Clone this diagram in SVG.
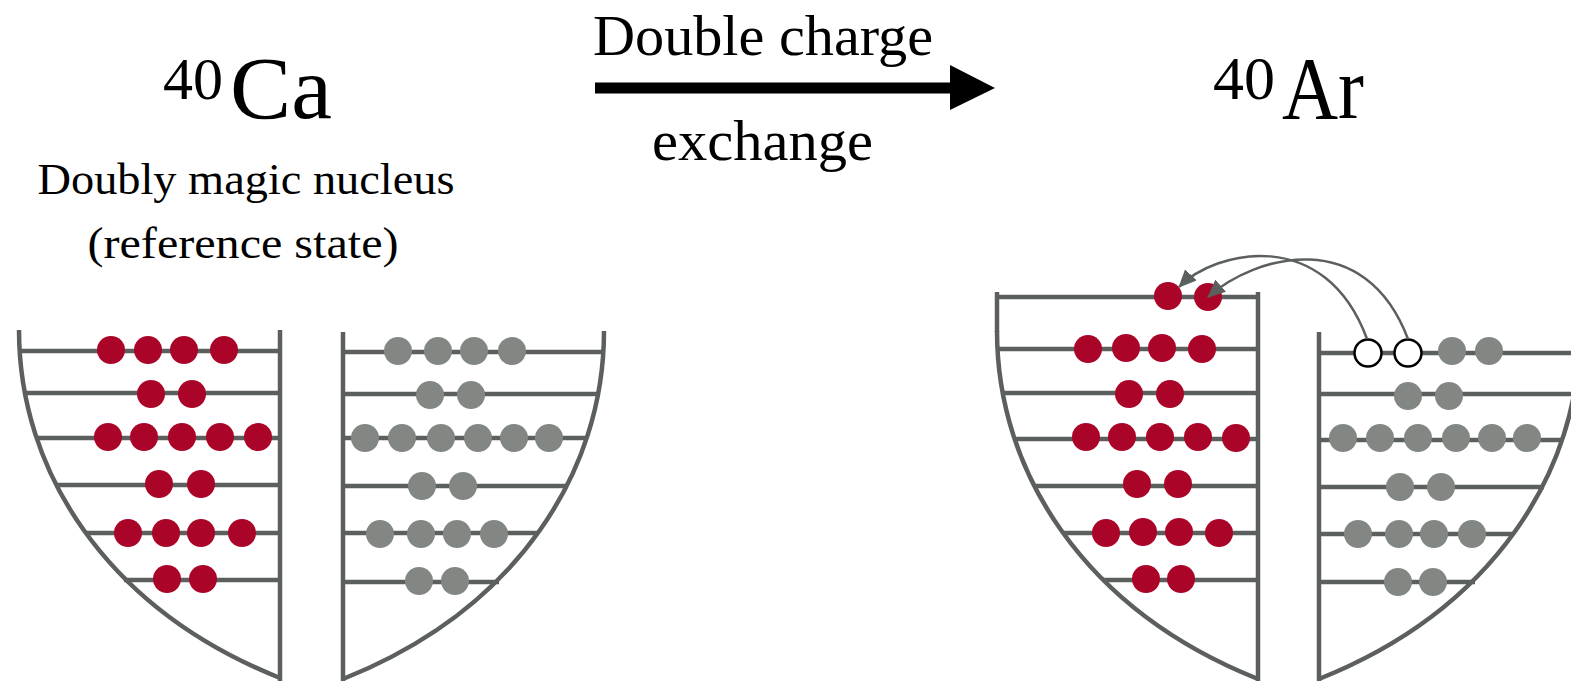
<svg xmlns="http://www.w3.org/2000/svg" width="1571" height="682" viewBox="0 0 1571 682">
  <style>
    .well { fill: none; stroke: #5b605e; stroke-width: 4.5; }
    .rung { stroke: #5b605e; stroke-width: 4.5; }
    .p { fill: #ab0429; }
    .n { fill: #828784; }
    .hole { fill: #ffffff; stroke: #000000; stroke-width: 2.5; }
    .lbl { font-family: "Liberation Serif", "Times New Roman", serif; fill: #000000; }
    .move { fill: none; stroke: #5b605e; stroke-width: 2.5; }
  </style>
  <defs>
    <marker id="tip" markerUnits="userSpaceOnUse" markerWidth="18" markerHeight="16" viewBox="0 0 18 16" refX="17" refY="8" orient="auto">
      <path d="M0,0 L18,8 L0,16 Z" fill="#5b605e"/>
    </marker>
    <!-- potential-well wall: opens at the top, meets the vertical axis at x=280 -->
    <path id="bowl" d="M19,330 C19,470 105,608 280,678"/>
  </defs>

  <!-- 40Ca title and caption -->
  <g id="ca-title">
    <text class="lbl" x="163" y="99" font-size="60">40</text>
    <text class="lbl" x="230" y="118" font-size="88" textLength="102" lengthAdjust="spacingAndGlyphs">Ca</text>
    <text class="lbl" x="246" y="194" font-size="44" text-anchor="middle" textLength="417" lengthAdjust="spacingAndGlyphs">Doubly magic nucleus</text>
    <text class="lbl" x="243" y="258" font-size="44" text-anchor="middle" textLength="311" lengthAdjust="spacingAndGlyphs">(reference state)</text>
  </g>

  <!-- transition arrow -->
  <g id="transition">
    <text class="lbl" x="593" y="55" font-size="56" textLength="340" lengthAdjust="spacingAndGlyphs">Double charge</text>
    <line x1="595" y1="88" x2="952" y2="88" stroke="#000" stroke-width="11"/>
    <path d="M950,65 L995,88 L950,110 Z" fill="#000"/>
    <text class="lbl" x="652" y="160" font-size="56" textLength="221" lengthAdjust="spacingAndGlyphs">exchange</text>
  </g>

  <!-- 40Ar title -->
  <g id="ar-title">
    <text class="lbl" x="1213" y="99" font-size="62">40</text>
    <text class="lbl" x="1282" y="118" font-size="88" textLength="82" lengthAdjust="spacingAndGlyphs">Ar</text>
  </g>

  <!-- 40Ca proton well -->
  <g id="ca-protons">
    <line class="rung" x1="19" y1="351" x2="280" y2="351"/>
    <line class="rung" x1="24" y1="393" x2="280" y2="393"/>
    <line class="rung" x1="36" y1="438" x2="280" y2="438"/>
    <line class="rung" x1="55" y1="485" x2="280" y2="485"/>
    <line class="rung" x1="85" y1="533" x2="280" y2="533"/>
    <line class="rung" x1="124" y1="580" x2="280" y2="580"/>
    <use href="#bowl" class="well"/>
    <line class="rung" x1="280" y1="330" x2="280" y2="681"/>
    <circle class="p" cx="111" cy="350" r="14"/><circle class="p" cx="148" cy="350" r="14"/><circle class="p" cx="184" cy="350" r="14"/><circle class="p" cx="224" cy="350" r="14"/>
    <circle class="p" cx="151" cy="394" r="14"/><circle class="p" cx="192" cy="394" r="14"/>
    <circle class="p" cx="108" cy="437" r="14"/><circle class="p" cx="144" cy="437" r="14"/><circle class="p" cx="182" cy="437" r="14"/><circle class="p" cx="220" cy="437" r="14"/><circle class="p" cx="258" cy="437" r="14"/>
    <circle class="p" cx="159" cy="484" r="14"/><circle class="p" cx="201" cy="484" r="14"/>
    <circle class="p" cx="128" cy="533" r="14"/><circle class="p" cx="166" cy="533" r="14"/><circle class="p" cx="201" cy="533" r="14"/><circle class="p" cx="242" cy="533" r="14"/>
    <circle class="p" cx="167" cy="579" r="14"/><circle class="p" cx="203" cy="579" r="14"/>
  </g>

  <!-- 40Ca neutron well (mirror image) -->
  <g id="ca-neutrons">
    <line class="rung" x1="343" y1="352" x2="604" y2="352"/>
    <line class="rung" x1="343" y1="394" x2="599" y2="394"/>
    <line class="rung" x1="343" y1="438" x2="587" y2="438"/>
    <line class="rung" x1="343" y1="486" x2="568" y2="486"/>
    <line class="rung" x1="343" y1="533" x2="538" y2="533"/>
    <line class="rung" x1="343" y1="582" x2="499" y2="582"/>
    <use href="#bowl" class="well" transform="translate(623,1) scale(-1,1)"/>
    <line class="rung" x1="343" y1="332" x2="343" y2="681"/>
    <circle class="n" cx="398" cy="351" r="14"/><circle class="n" cx="438" cy="351" r="14"/><circle class="n" cx="474" cy="351" r="14"/><circle class="n" cx="512" cy="351" r="14"/>
    <circle class="n" cx="430" cy="395" r="14"/><circle class="n" cx="471" cy="395" r="14"/>
    <circle class="n" cx="365" cy="438" r="14"/><circle class="n" cx="402" cy="438" r="14"/><circle class="n" cx="441" cy="438" r="14"/><circle class="n" cx="478" cy="438" r="14"/><circle class="n" cx="514" cy="438" r="14"/><circle class="n" cx="549" cy="438" r="14"/>
    <circle class="n" cx="422" cy="486" r="14"/><circle class="n" cx="463" cy="486" r="14"/>
    <circle class="n" cx="380" cy="534" r="14"/><circle class="n" cx="421" cy="534" r="14"/><circle class="n" cx="457" cy="534" r="14"/><circle class="n" cx="494" cy="534" r="14"/>
    <circle class="n" cx="419" cy="581" r="14"/><circle class="n" cx="455" cy="581" r="14"/>
  </g>

  <!-- 40Ar proton well, one extra level on top -->
  <g id="ar-protons">
    <line class="rung" x1="995" y1="297" x2="1258" y2="297"/>
    <line class="rung" x1="997" y1="349" x2="1258" y2="349"/>
    <line class="rung" x1="1002" y1="393" x2="1258" y2="393"/>
    <line class="rung" x1="1014" y1="439" x2="1258" y2="439"/>
    <line class="rung" x1="1033" y1="486" x2="1258" y2="486"/>
    <line class="rung" x1="1063" y1="533" x2="1258" y2="533"/>
    <line class="rung" x1="1102" y1="580" x2="1258" y2="580"/>
    <use href="#bowl" class="well" transform="translate(978,1)"/>
    <line class="rung" x1="997" y1="292" x2="997" y2="332"/>
    <line class="rung" x1="1258" y1="292" x2="1258" y2="681"/>
    <circle class="p" cx="1168" cy="296" r="14"/><circle class="p" cx="1208" cy="297" r="14"/>
    <circle class="p" cx="1088" cy="349" r="14"/><circle class="p" cx="1126" cy="348" r="14"/><circle class="p" cx="1162" cy="348" r="14"/><circle class="p" cx="1202" cy="349" r="14"/>
    <circle class="p" cx="1129" cy="394" r="14"/><circle class="p" cx="1170" cy="394" r="14"/>
    <circle class="p" cx="1086" cy="437" r="14"/><circle class="p" cx="1122" cy="437" r="14"/><circle class="p" cx="1160" cy="437" r="14"/><circle class="p" cx="1198" cy="437" r="14"/><circle class="p" cx="1236" cy="438" r="14"/>
    <circle class="p" cx="1137" cy="484" r="14"/><circle class="p" cx="1178" cy="484" r="14"/>
    <circle class="p" cx="1106" cy="533" r="14"/><circle class="p" cx="1143" cy="532" r="14"/><circle class="p" cx="1179" cy="532" r="14"/><circle class="p" cx="1219" cy="533" r="14"/>
    <circle class="p" cx="1146" cy="579" r="14"/><circle class="p" cx="1181" cy="579" r="14"/>
  </g>

  <!-- 40Ar neutron well with two holes on the top level -->
  <g id="ar-neutrons">
    <line class="rung" x1="1319" y1="353" x2="1571" y2="353"/>
    <line class="rung" x1="1319" y1="394" x2="1571" y2="394"/>
    <line class="rung" x1="1319" y1="440" x2="1563" y2="440"/>
    <line class="rung" x1="1319" y1="487" x2="1544" y2="487"/>
    <line class="rung" x1="1319" y1="534" x2="1514" y2="534"/>
    <line class="rung" x1="1319" y1="582" x2="1475" y2="582"/>
    <use href="#bowl" class="well" transform="translate(1599,1) scale(-1,1)"/>
    <line class="rung" x1="1319" y1="332" x2="1319" y2="681"/>
    <circle class="hole" cx="1368" cy="353" r="13.5"/><circle class="hole" cx="1408" cy="353" r="13.5"/>
    <circle class="n" cx="1452" cy="351" r="14"/><circle class="n" cx="1489" cy="351" r="14"/>
    <circle class="n" cx="1408" cy="396" r="14"/><circle class="n" cx="1449" cy="396" r="14"/>
    <circle class="n" cx="1343" cy="438" r="14"/><circle class="n" cx="1380" cy="438" r="14"/><circle class="n" cx="1418" cy="438" r="14"/><circle class="n" cx="1456" cy="438" r="14"/><circle class="n" cx="1492" cy="438" r="14"/><circle class="n" cx="1527" cy="438" r="14"/>
    <circle class="n" cx="1400" cy="487" r="14"/><circle class="n" cx="1441" cy="487" r="14"/>
    <circle class="n" cx="1358" cy="534" r="14"/><circle class="n" cx="1399" cy="534" r="14"/><circle class="n" cx="1434" cy="534" r="14"/><circle class="n" cx="1472" cy="534" r="14"/>
    <circle class="n" cx="1398" cy="582" r="14"/><circle class="n" cx="1433" cy="582" r="14"/>
  </g>

  <!-- neutron-to-proton transfer arcs -->
  <g id="connectors">
    <path class="move" d="M1367,339 C1325,225 1215,250 1179,287" marker-end="url(#tip)"/>
    <path class="move" d="M1408,339 C1365,225 1255,255 1208,297" marker-end="url(#tip)"/>
  </g>
</svg>
